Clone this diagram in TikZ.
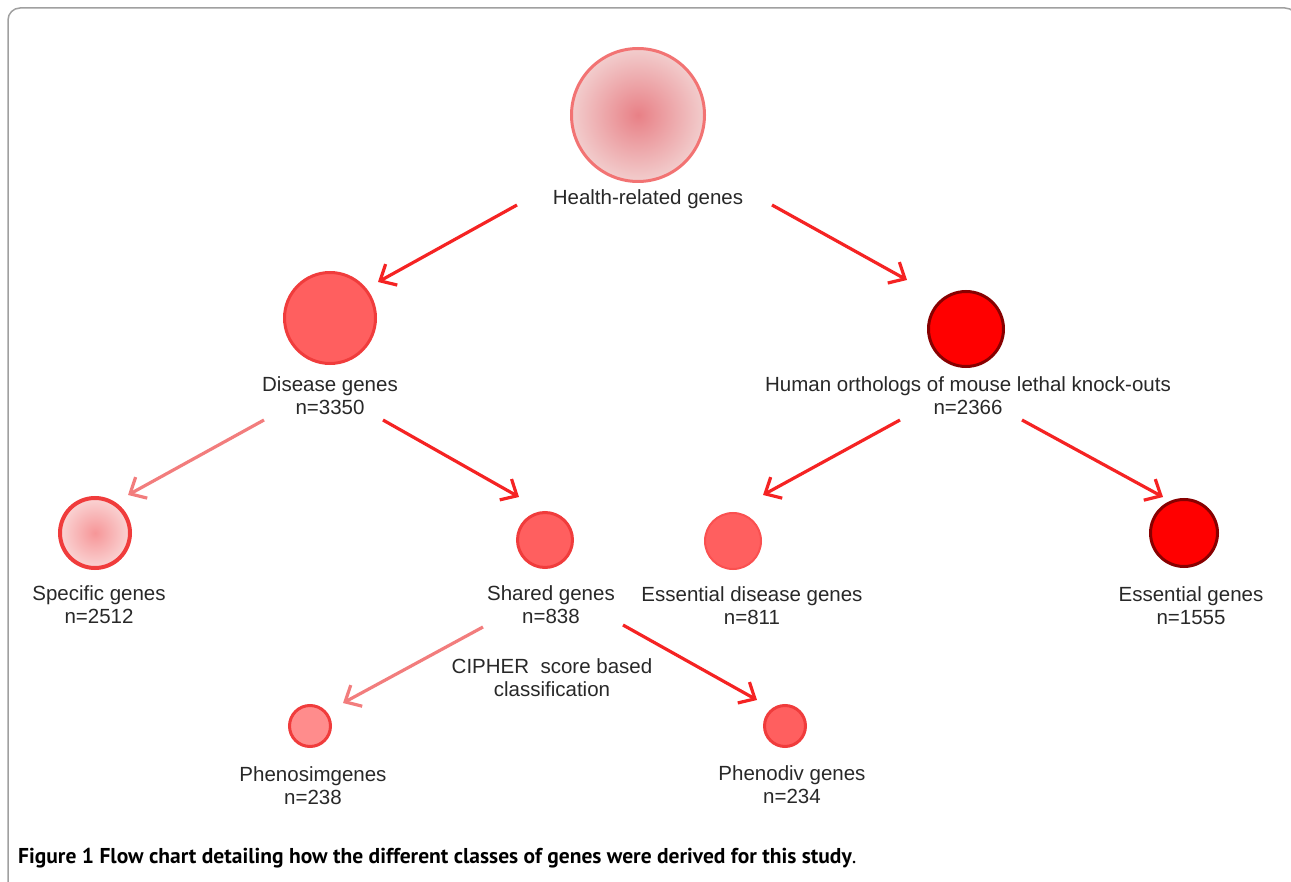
\documentclass[tikz,border=0pt]{standalone}
\usepackage{fontspec}
\setmainfont{Liberation Sans}
\newfontfamily\capfont{PT Sans}
\usetikzlibrary{arrows.meta, positioning}

\definecolor{inkred}{RGB}{245,35,35}
\definecolor{palered}{RGB}{242,125,125}
\definecolor{midred}{RGB}{255,95,95}
\definecolor{lightred}{RGB}{255,140,140}
\definecolor{rimred}{RGB}{240,60,60}
\definecolor{pinkrim}{RGB}{242,115,115}
\definecolor{deepred}{RGB}{135,0,0}
\definecolor{textgrey}{RGB}{40,40,40}
\definecolor{framegrey}{RGB}{160,160,160}

\begin{document}
\begin{tikzpicture}[
        x=1pt, y=-1pt,
        gene/.style={
            circle, draw=rimred, line width=3pt, fill=midred,
            inner sep=0pt
        },
        pinkgene/.style={
            gene, draw=pinkrim, shading=radial,
            inner color={rgb,255:red,232;green,128;blue,134},
            outer color={rgb,255:red,242;green,205;blue,205}
        },
        lethalgene/.style={
            gene, draw=deepred, fill=red
        },
        lbl/.style={
            align=center, text=textgrey, inner sep=0pt,
            font=\fontsize{20.5}{23}\selectfont
        },
        arrow/.style={-{Straight Barb[length=13pt,width=24pt]}, line width=3.2pt, color=inkred},
        softarrow/.style={arrow, color=palered}
    ]

    \useasboundingbox (0,0) rectangle (1291,882);

    % FRAME
    \draw[framegrey, line width=1.5pt, rounded corners=12pt]
        (8,895) -- (8,8) -- (1297,8) -- (1297,895);

    % TOP: HEALTH-RELATED
    \node[pinkgene, minimum size=133pt] (health) at (638,115) {};
    \node[lbl] (healthlbl) at (648,199) {Health-related genes};

    % SECOND ROW
    \node[gene, minimum size=91pt] (disease) at (330,318) {};
    \node[lbl] (diseaselbl) at (330,396) {Disease genes\\n=3350};

    \node[lethalgene, minimum size=75pt] (ortho) at (966,329) {};
    \node[lbl] (ortholbl) at (968,396) {Human orthologs of mouse lethal knock-outs\\n=2366};

    % THIRD ROW
    \node[pinkgene, draw=rimred, line width=4pt, minimum size=70pt,
          inner color={rgb,255:red,246;green,150;blue,152},
          outer color={rgb,255:red,250;green,212;blue,212}] (specific) at (95,533) {};
    \node[lbl] (specificlbl) at (99,605) {Specific genes\\n=2512};

    \node[gene, minimum size=55pt] (shared) at (545,540) {};
    \node[lbl] (sharedlbl) at (551,605) {Shared genes\\n=838};

    \node[gene, draw={rgb,255:red,250;green,80;blue,80}, line width=2pt,
          minimum size=56pt] (essdis) at (733,541) {};
    \node[lbl] (essdislbl) at (752,606) {Essential disease genes\\n=811};

    \node[lethalgene, minimum size=67pt] (essential) at (1184,533) {};
    \node[lbl] (essentiallbl) at (1191,606) {Essential genes\\n=1555};

    % CIPHER SPLIT
    \node[lbl] (cipher) at (552,678) {CIPHER\ \ score based\\classification};

    \node[gene, fill=lightred, minimum size=41pt] (phenosim) at (310,726) {};
    \node[lbl] (phenosimlbl) at (313,786) {Phenosimgenes\\n=238};

    \node[gene, minimum size=41pt] (phenodiv) at (785,726) {};
    \node[lbl] (phenodivlbl) at (792,785) {Phenodiv genes\\n=234};

    % ARROWS
    \draw[arrow] ([shift={(-131,6)}]healthlbl.center) -- ([shift={(48,-36)}]disease.center);
    \draw[arrow] ([shift={(124,6)}]healthlbl.center) -- ([shift={(-59,-49)}]ortho.center);
    \draw[softarrow] ([shift={(-66,24)}]diseaselbl.center) -- ([shift={(33,-38)}]specific.center);
    \draw[arrow] ([shift={(53,24)}]diseaselbl.center) -- ([shift={(-26,-43)}]shared.center);
    \draw[arrow] ([shift={(-68,24)}]ortholbl.center) -- ([shift={(30,-46)}]essdis.center);
    \draw[arrow] ([shift={(54,24)}]ortholbl.center) -- ([shift={(-21,-36)}]essential.center);
    \draw[softarrow] ([shift={(-68,22)}]sharedlbl.center) -- ([shift={(33,-23)}]phenosim.center);
    \draw[arrow] ([shift={(72,20)}]sharedlbl.center) -- ([shift={(-28,-26)}]phenodiv.center);

    % CAPTION
    \node[anchor=west, inner sep=0pt, text=black] (caption) at (18,858)
        {\capfont\fontsize{21.5}{26}\selectfont\bfseries Figure 1 Flow chart detailing how the different classes of genes were derived for this study\mdseries.};

\end{tikzpicture}
\end{document}
